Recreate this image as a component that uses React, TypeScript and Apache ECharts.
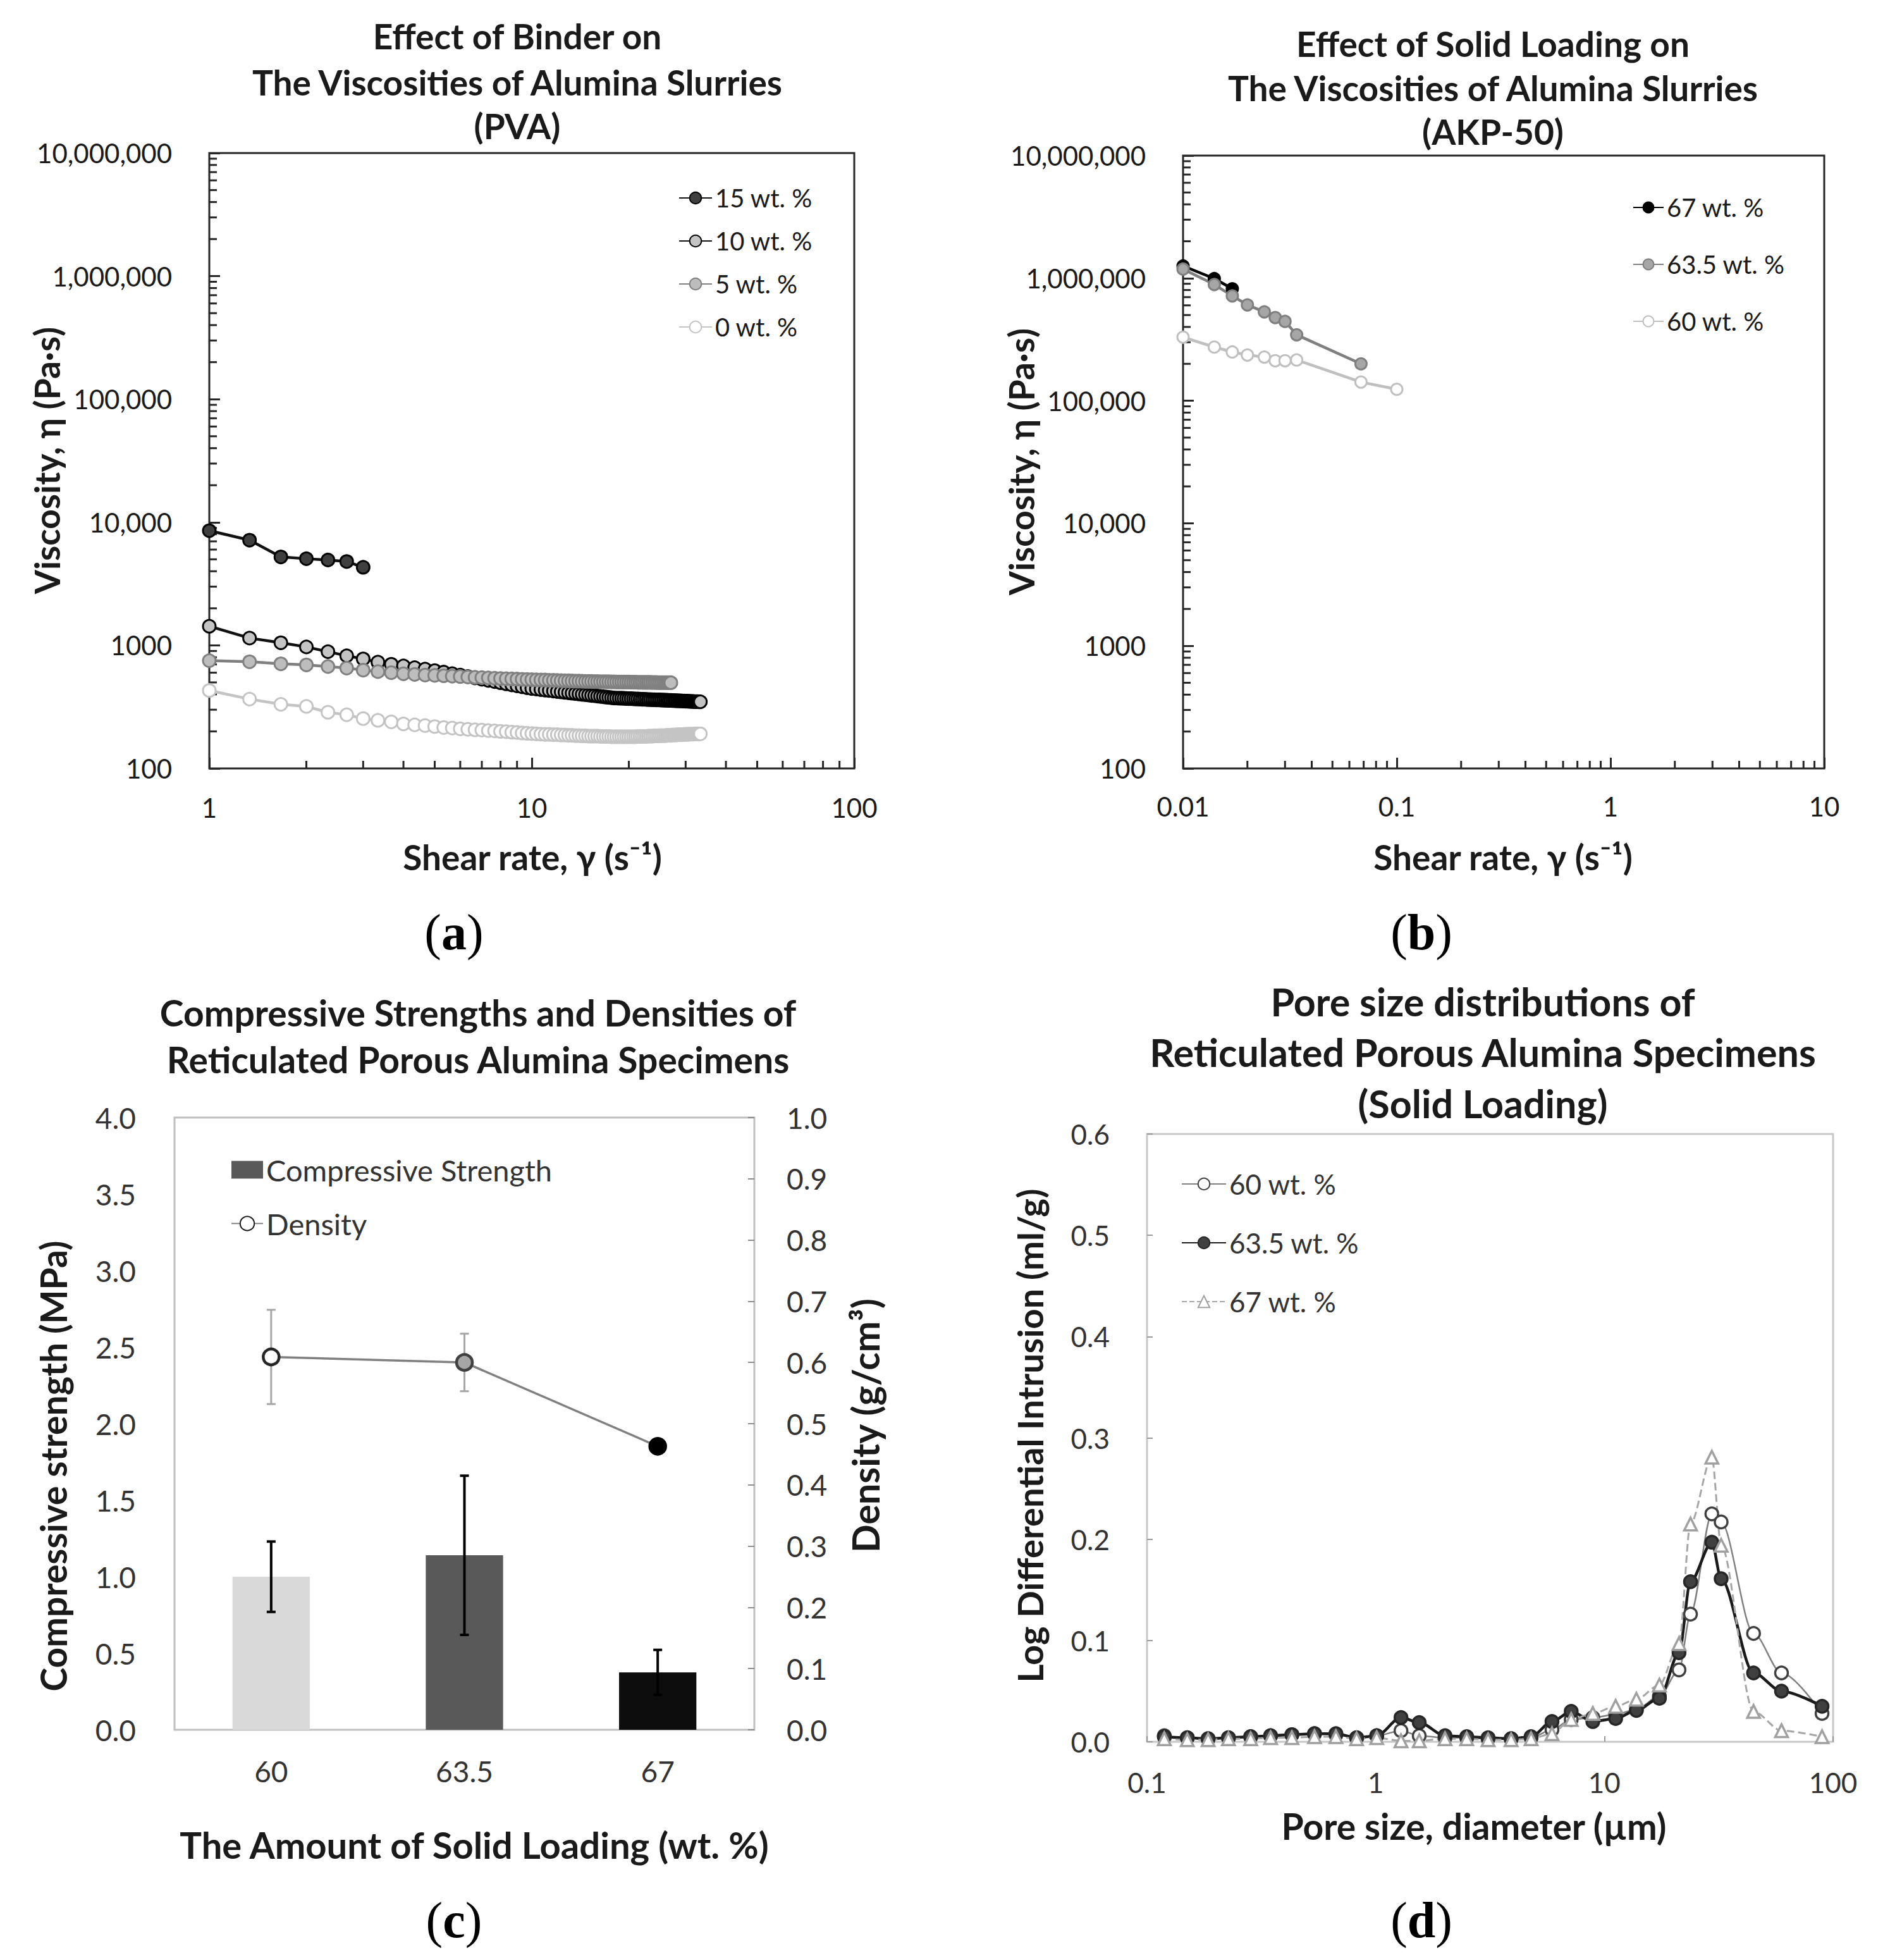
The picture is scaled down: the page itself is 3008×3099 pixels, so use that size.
import React, { useEffect, useRef } from 'react';
import * as echarts from 'echarts';

const FONT = "Lato, 'Noto Sans', 'DejaVu Sans', sans-serif";
const SERIF = "'Liberation Serif', 'DejaVu Serif', serif";
const INK = '#1a1a1a';

// ---------- (a) Effect of binder (PVA) ----------
const shearRateA = [
  1, 1.333, 1.667, 2, 2.333, 2.667, 3,
  3.333, 3.667, 4, 4.333, 4.667, 5, 5.333, 5.667, 6, 6.333, 6.667, 7,
  7.333, 7.667, 8, 8.333, 8.667, 9, 9.333, 9.667, 10, 10.33, 10.67, 11,
  11.33, 11.67, 12, 12.33, 12.67, 13, 13.33, 13.67, 14, 14.33, 14.67, 15,
  15.33, 15.67, 16, 16.33, 16.67, 17, 17.33, 17.67, 18, 18.33, 18.67, 19,
  19.33, 19.67, 20, 20.33, 20.67, 21, 21.33, 21.67, 22, 22.33, 22.67, 23,
  23.33, 23.67, 24, 24.33, 24.67, 25, 25.33, 25.67, 26, 26.33, 26.67, 27,
  27.33, 27.67, 28, 28.33, 28.67, 29, 29.33, 29.67, 30, 30.33, 30.67, 31,
  31.33, 31.67, 32, 32.33, 32.67, 33, 33.33,
];
const viscosity15 = [8550, 7160, 5230, 5060, 4940, 4800, 4310];
const viscosity10 = [
  1430, 1146, 1050, 971, 889, 823, 776,
  731, 702, 681, 659, 642, 624, 606, 589, 573, 558, 544, 531,
  519, 508, 497, 487, 478, 469, 461, 453, 446, 442, 437, 433,
  430, 426, 422, 419, 415, 412, 409, 406, 403, 400, 398, 395,
  392, 390, 387, 385, 383, 380, 378, 376, 374, 373, 372, 372,
  371, 370, 369, 369, 368, 367, 367, 366, 365, 365, 364, 363,
  363, 362, 362, 361, 361, 360, 359, 359, 358, 358, 357, 357,
  356, 356, 355, 355, 354, 354, 353, 353, 352, 352, 351, 351,
  350, 350, 349, 349, 349, 348, 348,
];
const viscosity5 = [
  751, 736, 708, 694, 673, 654, 629,
  612, 600, 588, 581, 574, 570, 566, 562, 558, 554, 550, 547,
  544, 541, 538, 536, 534, 532, 530, 528, 527, 525, 524, 523,
  521, 520, 519, 517, 516, 515, 514, 513, 512, 511, 510, 510,
  509, 508, 508, 507, 507, 506, 506, 505, 505, 504, 504, 504,
  503, 503, 503, 502, 502, 502, 501, 501, 501, 500, 500, 500,
  500, 499, 499, 499, 498, 498, 498, 498, 497, 497, 497, 497,
];
const viscosity0 = [
  430, 366, 332, 319, 286, 273, 254,
  246, 239, 230, 226, 223, 219, 215, 213, 210, 208, 206, 205,
  203, 202, 200, 199, 197, 196, 194, 193, 192, 191, 190, 189,
  189, 188, 188, 187, 187, 186, 186, 185, 185, 184, 184, 183,
  183, 183, 183, 182, 182, 182, 182, 181, 181, 181, 181, 181,
  181, 181, 181, 181, 181, 181, 182, 182, 182, 182, 182, 183,
  183, 183, 184, 184, 184, 185, 185, 185, 185, 186, 186, 186,
  187, 187, 187, 188, 188, 188, 188, 189, 189, 189, 190, 190,
  190, 190, 191, 191, 191, 191, 191,
];

// ---------- (b) Effect of solid loading (AKP-50) ----------
const shearRateB = [0.01, 0.014, 0.017, 0.02, 0.024, 0.027, 0.03, 0.034, 0.068, 0.1];
const viscosity67 = [1258000, 992000, 820000];
const viscosity635 = [1186000, 888000, 717000, 605000, 531000, 477000, 444000, 345000, 200000];
const viscosity60 = [330000, 274000, 250000, 236000, 227000, 212000, 212000, 215000, 142000, 124000];

// ---------- (c) Compressive strength & density ----------
const loadingCategories = ['60', '63.5', '67'];
const strength = [1.0, 1.14, 0.375];
const strengthErr = [0.23, 0.52, 0.147];
const barColors = ['#d9d9d9', '#595959', '#0d0d0d'];
const density = [0.609, 0.6, 0.463];
const densityErr = [0.077, 0.047, 0];

// ---------- (d) Pore size distributions ----------
const poreSize = [
  0.119, 0.15, 0.185, 0.227, 0.284, 0.347, 0.43, 0.54, 0.67, 0.825, 1.01,
  1.29, 1.55, 2.01, 2.5, 3.1, 3.91, 4.78, 5.9, 7.16, 8.9, 11.2, 13.8, 17.4,
  21.2, 23.8, 29.5, 32.4, 44.9, 59.5, 89.5,
];
const intrusion60 = [
  0.006, 0.004, 0.003, 0.004, 0.005, 0.006, 0.007, 0.008, 0.007, 0.004, 0.006,
  0.011, 0.006, 0.004, 0.004, 0.003, 0.003, 0.004, 0.012, 0.022, 0.024, 0.027,
  0.032, 0.045, 0.071, 0.126, 0.225, 0.217, 0.107, 0.068, 0.028,
];
const intrusion635 = [
  0.005, 0.004, 0.003, 0.004, 0.005, 0.006, 0.007, 0.008, 0.008, 0.004, 0.006,
  0.024, 0.019, 0.006, 0.005, 0.004, 0.003, 0.005, 0.02, 0.03, 0.02, 0.023,
  0.031, 0.043, 0.088, 0.158, 0.197, 0.161, 0.068, 0.05, 0.035,
];
const intrusion67 = [
  0.003, 0.002, 0.002, 0.003, 0.003, 0.004, 0.004, 0.005, 0.005, 0.003, 0.004,
  0.001, 0.001, 0.003, 0.003, 0.002, 0.002, 0.003, 0.008, 0.022, 0.028, 0.035,
  0.042, 0.056, 0.097, 0.215, 0.281, 0.194, 0.03, 0.011, 0.005,
];

// ---------- tick labels ----------
const viscosityTickLabels = ['100', '1000', '10,000', '100,000', '1,000,000', '10,000,000']; // 10^2..10^7
const shearTickLabelsA = ['1', '10', '100']; // 10^0..10^2
const shearTickLabelsB = ['0.01', '0.1', '1', '10']; // 10^-2..10^1
const poreTickLabels = ['0.1', '1', '10', '100']; // 10^-1..10^2
const minorSteps = [2, 3, 4, 5, 6, 7, 8, 9];
const viscosityDecades = [100, 1000, 10000, 100000, 1000000];
const shearDecadesA = [1, 10];
const shearDecadesB = [0.01, 0.1, 1];

const LEGEND_LABELS: Record<string, string> = {
  a15: '15 wt. %', a10: '10 wt. %', a5: '5 wt. %', a0: '0 wt. %',
  b67: '67 wt. %', b63: '63.5 wt. %', b60: '60 wt. %',
  d60: '60 wt. %', d63: '63.5 wt. %', d67: '67 wt. %',
};

const pair = (xs: number[], ys: number[]) => ys.map((y, i) => [xs[i], y]);
const minorOf = (decades: number[]) => decades.flatMap((d) => minorSteps.map((m) => +(d * m).toPrecision(6)));

function logLabel(labels: string[], firstExp: number) {
  return (v: number) => labels[Math.round(Math.log10(v)) - firstExp] ?? '';
}

function tickSeries(xi: number, yi: number, points: number[][], dir: 'x' | 'y', len: number) {
  return {
    type: 'custom', xAxisIndex: xi, yAxisIndex: yi, silent: true, z: 1, data: points,
    renderItem: (_p: any, api: any) => {
      const p = api.coord([api.value(0), api.value(1)]);
      return {
        type: 'line',
        shape: { x1: p[0], y1: p[1], x2: dir === 'y' ? p[0] + len : p[0], y2: dir === 'y' ? p[1] : p[1] - len },
        style: { stroke: '#262626', lineWidth: 3 },
      };
    },
  };
}

function errorSeries(xi: number, yi: number, vals: number[], errs: number[], color: string, lw: number, cap: number, z: number) {
  return {
    type: 'custom', xAxisIndex: xi, yAxisIndex: yi, silent: true, z,
    data: vals.map((v, i) => [i, v, errs[i]]),
    renderItem: (_p: any, api: any) => {
      const e = api.value(2);
      if (!e) return null;
      const top = api.coord([api.value(0), api.value(1) + e]);
      const bot = api.coord([api.value(0), api.value(1) - e]);
      const st = { stroke: color, lineWidth: lw };
      return {
        type: 'group',
        children: [
          { type: 'line', shape: { x1: top[0], y1: top[1], x2: bot[0], y2: bot[1] }, style: st },
          { type: 'line', shape: { x1: top[0] - cap, y1: top[1], x2: top[0] + cap, y2: top[1] }, style: st },
          { type: 'line', shape: { x1: bot[0] - cap, y1: bot[1], x2: bot[0] + cap, y2: bot[1] }, style: st },
        ],
      };
    },
  };
}

const txt = (text: string, x: number, y: number, size: number, rotation = 0, weight = 'bold') => ({
  type: 'text', x, y, rotation, silent: true,
  style: {
    text, fill: INK, fontSize: size, fontWeight: weight, fontFamily: FONT,
    align: 'center', verticalAlign: 'middle', textAlign: 'center', textVerticalAlign: 'middle',
  },
});

const panelLabel = (letter: string, x: number, y: number) => ({
  type: 'text', x, y, silent: true,
  style: {
    text: '{p|(}{b|' + letter + '}{p|)}',
    fill: '#000', fontSize: 80, fontFamily: SERIF,
    align: 'center', verticalAlign: 'middle', textAlign: 'center', textVerticalAlign: 'middle',
    rich: {
      p: { fontSize: 80, fontFamily: SERIF, fill: '#000' },
      b: { fontSize: 80, fontFamily: SERIF, fontWeight: 'bold', fill: '#000' },
    },
  },
});

const axisLabelBase = { fontFamily: FONT, color: INK };

function buildOption(): any {
  const lineA = (name: string, data: number[][], line: string, fill: string, border: string) => ({
    name, type: 'line', xAxisIndex: 0, yAxisIndex: 0, data, clip: false, z: 3,
    symbol: 'circle', symbolSize: 20, showSymbol: true,
    lineStyle: { color: line, width: 4.5 },
    itemStyle: { color: fill, borderColor: border, borderWidth: 3 },
  });
  const lineB = (name: string, data: number[][], line: string, fill: string, border: string) => ({
    name, type: 'line', xAxisIndex: 1, yAxisIndex: 1, data, clip: false, z: 3,
    symbol: 'circle', symbolSize: 18,
    lineStyle: { color: line, width: 4.5 },
    itemStyle: { color: fill, borderColor: border, borderWidth: 3 },
  });
  const lineD = (name: string, data: number[][], symbol: string, line: string, lw: number, dash: string, fill: string, border: string) => ({
    name, type: 'line', xAxisIndex: 3, yAxisIndex: 4, data, clip: false, z: 3,
    symbol, symbolSize: 20, smooth: 0.3, smoothMonotone: 'x',
    lineStyle: { color: line, width: lw, type: dash },
    itemStyle: { color: fill, borderColor: border, borderWidth: 3.5 },
  });

  const legendBase = {
    orient: 'vertical', padding: 0, selectedMode: false,
    formatter: (n: string) => LEGEND_LABELS[n] ?? n,
  };

  return {
    animation: false,
    backgroundColor: '#ffffff',
    grid: [
      { left: 331, top: 242, width: 1020, height: 973, show: true, borderColor: '#262626', borderWidth: 3, backgroundColor: 'transparent' },
      { left: 1871, top: 246, width: 1014, height: 969, show: true, borderColor: '#262626', borderWidth: 3, backgroundColor: 'transparent' },
      { left: 276, top: 1767, width: 917, height: 968, show: true, borderColor: '#bfbfbf', borderWidth: 3, backgroundColor: 'transparent' },
      { left: 1814, top: 1793, width: 1085, height: 961, show: true, borderColor: '#c8c8c8', borderWidth: 3, backgroundColor: 'transparent' },
    ],
    xAxis: [
      {
        type: 'log', logBase: 10, gridIndex: 0, min: 1, max: 100,
        axisLine: { show: false }, splitLine: { show: false },
        axisTick: { inside: true, length: 17, lineStyle: { color: '#262626', width: 3 } },
        axisLabel: { ...axisLabelBase, fontSize: 42, margin: 41, formatter: logLabel(shearTickLabelsA, 0) },
      },
      {
        type: 'log', logBase: 10, gridIndex: 1, min: 0.01, max: 10,
        axisLine: { show: false }, splitLine: { show: false },
        axisTick: { inside: true, length: 17, lineStyle: { color: '#262626', width: 3 } },
        axisLabel: { ...axisLabelBase, fontSize: 42, margin: 39, formatter: logLabel(shearTickLabelsB, -2) },
      },
      {
        type: 'category', gridIndex: 2, data: loadingCategories,
        axisLine: { show: false }, axisTick: { show: false }, splitLine: { show: false },
        axisLabel: { ...axisLabelBase, color: '#333', fontSize: 46, margin: 42 },
      },
      {
        type: 'log', logBase: 10, gridIndex: 3, min: 0.1, max: 100,
        axisLine: { show: false }, splitLine: { show: false },
        axisTick: { inside: true, length: 9, lineStyle: { color: '#9a9a9a', width: 2 } },
        axisLabel: { ...axisLabelBase, color: '#333', fontSize: 44, margin: 42, formatter: logLabel(poreTickLabels, -1) },
      },
    ],
    yAxis: [
      {
        type: 'log', logBase: 10, gridIndex: 0, min: 100, max: 10000000,
        axisLine: { show: false }, splitLine: { show: false },
        axisTick: { inside: true, length: 17, lineStyle: { color: '#262626', width: 3 } },
        axisLabel: { ...axisLabelBase, fontSize: 42, margin: 59, formatter: logLabel(viscosityTickLabels, 2) },
      },
      {
        type: 'log', logBase: 10, gridIndex: 1, min: 100, max: 10000000,
        axisLine: { show: false }, splitLine: { show: false },
        axisTick: { inside: true, length: 17, lineStyle: { color: '#262626', width: 3 } },
        axisLabel: { ...axisLabelBase, fontSize: 42, margin: 59, formatter: logLabel(viscosityTickLabels, 2) },
      },
      {
        type: 'value', gridIndex: 2, min: 0, max: 4, interval: 0.5,
        axisLine: { show: false }, axisTick: { show: false }, splitLine: { show: false },
        axisLabel: { ...axisLabelBase, color: '#333', fontSize: 46, margin: 61, formatter: (v: number) => v.toFixed(1) },
      },
      {
        type: 'value', gridIndex: 2, position: 'right', min: 0, max: 1, interval: 0.1,
        axisLine: { show: false }, splitLine: { show: false },
        axisTick: { show: true, inside: true, length: 10, lineStyle: { color: '#8c8c8c', width: 2 } },
        axisLabel: { ...axisLabelBase, color: '#333', fontSize: 46, margin: 51, formatter: (v: number) => v.toFixed(1) },
      },
      {
        type: 'value', gridIndex: 3, min: 0, max: 0.6, interval: 0.1,
        axisLine: { show: false }, splitLine: { show: false },
        axisTick: { show: true, inside: true, length: 9, lineStyle: { color: '#9a9a9a', width: 2 } },
        axisLabel: { ...axisLabelBase, color: '#333', fontSize: 44, margin: 59, formatter: (v: number) => v.toFixed(1) },
      },
    ],
    legend: [
      {
        ...legendBase, left: 1073, top: 293, itemWidth: 52, itemHeight: 23, itemGap: 28,
        data: ['a15', 'a10', 'a5', 'a0'],
        textStyle: { fontFamily: FONT, fontSize: 40, lineHeight: 40, color: INK },
      },
      {
        ...legendBase, left: 2582, top: 308, itemWidth: 48, itemHeight: 21, itemGap: 50,
        data: ['b67', 'b63', 'b60'],
        textStyle: { fontFamily: FONT, fontSize: 40, lineHeight: 40, color: INK },
      },
      {
        ...legendBase, left: 365, top: 1826, itemWidth: 50, itemHeight: 28, itemGap: 38,
        data: [{ name: 'Compressive Strength', icon: 'rect' }, { name: 'Density' }],
        textStyle: { fontFamily: FONT, fontSize: 47, lineHeight: 47, color: '#333' },
      },
      {
        ...legendBase, left: 1868, top: 1850, itemWidth: 70, itemHeight: 23, itemGap: 49,
        data: ['d60', 'd63', 'd67'],
        textStyle: { fontFamily: FONT, fontSize: 44, lineHeight: 44, color: '#333' },
      },
    ],
    series: [
      // minor ticks (a)
      tickSeries(0, 0, minorOf(viscosityDecades).map((v) => [1, v]), 'y', 12),
      tickSeries(0, 0, minorOf(shearDecadesA).map((v) => [v, 100]), 'x', 12),
      // minor ticks (b)
      tickSeries(1, 1, minorOf(viscosityDecades).map((v) => [0.01, v]), 'y', 12),
      tickSeries(1, 1, minorOf(shearDecadesB).map((v) => [v, 100]), 'x', 12),

      // (a)
      lineA('a15', pair(shearRateA, viscosity15), '#111111', '#3f3f3f', '#000000'),
      lineA('a10', pair(shearRateA, viscosity10), '#111111', '#c4c4c4', '#000000'),
      lineA('a5', pair(shearRateA, viscosity5), '#808080', '#bdbdbd', '#808080'),
      lineA('a0', pair(shearRateA, viscosity0), '#c4c4c4', '#ffffff', '#c4c4c4'),

      // (b)
      lineB('b67', pair(shearRateB, viscosity67), '#000000', '#000000', '#000000'),
      lineB('b63', pair(shearRateB, viscosity635), '#7f7f7f', '#a6a6a6', '#7f7f7f'),
      lineB('b60', pair(shearRateB, viscosity60), '#bfbfbf', '#ffffff', '#bfbfbf'),

      // (c)
      {
        name: 'Compressive Strength', type: 'bar', xAxisIndex: 2, yAxisIndex: 2, barWidth: '40%', z: 2,
        itemStyle: { color: '#595959' },
        data: strength.map((v, i) => ({ value: v, itemStyle: { color: barColors[i] } })),
      },
      errorSeries(2, 2, strength, strengthErr, '#000000', 4, 7, 4),
      errorSeries(2, 3, density, densityErr, '#a6a6a6', 3, 7, 3),
      {
        name: 'Density', type: 'line', xAxisIndex: 2, yAxisIndex: 3, z: 5, clip: false,
        symbol: 'circle', symbolSize: 25,
        lineStyle: { color: '#808080', width: 3.5 },
        itemStyle: { color: '#ffffff', borderColor: '#1a1a1a', borderWidth: 4.5 },
        data: density.map((v, i) => ({
          value: v,
          itemStyle: i === 0
            ? { color: '#ffffff', borderColor: '#262626' }
            : i === 1
              ? { color: '#a6a6a6', borderColor: '#404040' }
              : { color: '#000000', borderColor: '#000000' },
        })),
      },

      // (d)
      lineD('d60', pair(poreSize, intrusion60), 'circle', '#808080', 2.5, 'solid', '#ffffff', '#404040'),
      lineD('d63', pair(poreSize, intrusion635), 'circle', '#1a1a1a', 4.5, 'solid', '#404040', '#262626'),
      lineD('d67', pair(poreSize, intrusion67), 'triangle', '#a6a6a6', 3, 'dashed', '#ffffff', '#a0a0a0'),
    ],
    graphic: {
      elements: [
        // titles (a)
        txt('Effect of Binder on', 818, 57, 55),
        txt('The Viscosities of Alumina Slurries', 818, 130, 55),
        txt('(PVA)', 818, 199, 55),
        // titles (b)
        txt('Effect of Solid Loading on', 2361, 69, 55),
        txt('The Viscosities of Alumina Slurries', 2361, 139, 55),
        txt('(AKP-50)', 2361, 208, 55),
        // titles (c)
        txt('Compressive Strengths and Densities of', 756, 1601, 57),
        txt('Reticulated Porous Alumina Specimens', 756, 1675, 57),
        // titles (d)
        txt('Pore size distributions of', 2345, 1583, 61),
        txt('Reticulated Porous Alumina Specimens', 2345, 1663, 61),
        txt('(Solid Loading)', 2345, 1744, 61),
        // axis titles
        txt('Shear rate, γ (s⁻¹)', 842, 1355, 55),
        txt('Viscosity, η (Pa·s)', 74, 728, 55, Math.PI / 2),
        txt('Shear rate, γ (s⁻¹)', 2377, 1355, 55),
        txt('Viscosity, η (Pa·s)', 1615, 730, 55, Math.PI / 2),
        txt('The Amount of Solid Loading (wt. %)', 750, 2916, 58),
        txt('Compressive strength (MPa)', 84, 2318, 57, Math.PI / 2),
        txt('Density (g/cm³)', 1368, 2254, 59, Math.PI / 2),
        txt('Pore size, diameter (µm)', 2331, 2887, 57),
        txt('Log Differential Intrusion (ml/g)', 1628, 2270, 56, Math.PI / 2),
        // panel labels
        panelLabel('a', 718, 1474),
        panelLabel('b', 2248, 1474),
        panelLabel('c', 718, 3036),
        panelLabel('d', 2248, 3036),
      ],
    },
  };
}

export default function App() {
  const ref = useRef<HTMLDivElement>(null);
  useEffect(() => {
    if (!ref.current) return;
    const chart = echarts.init(ref.current, undefined, { renderer: 'svg' });
    chart.setOption(buildOption());
    return () => chart.dispose();
  }, []);
  return (
    <div
      ref={ref}
      style={{ position: 'absolute', left: 0, top: 0, width: 3008, height: 3099, background: '#ffffff' }}
    />
  );
}
